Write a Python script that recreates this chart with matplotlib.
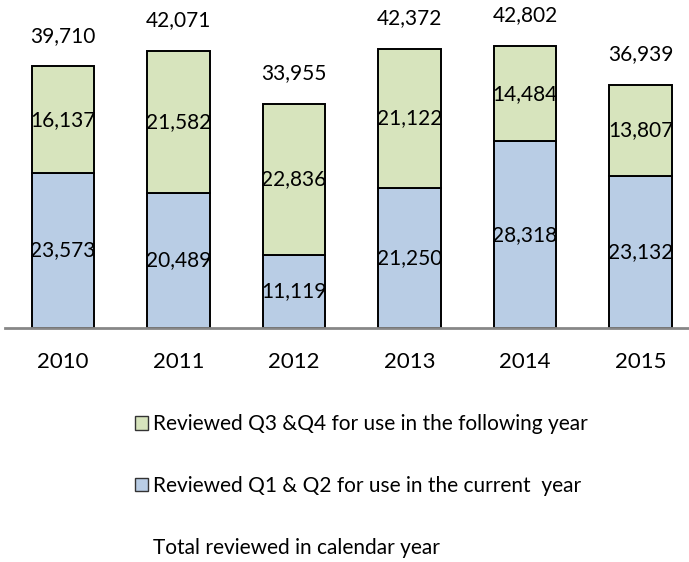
import matplotlib
matplotlib.use("Agg")
import matplotlib.pyplot as plt
from matplotlib.patches import Patch
from matplotlib.lines import Line2D

# data
years = ["2010", "2011", "2012", "2013", "2014", "2015"]
q1_q2 = [23573, 20489, 11119, 21250, 28318, 23132]
q3_q4 = [16137, 21582, 22836, 21122, 14484, 13807]
totals = [39710, 42071, 33955, 42372, 42802, 36939]

blue = "#B9CDE5"
green = "#D7E4BD"

plt.rcParams["font.family"] = ["Lato", "DejaVu Sans"]
plt.rcParams["font.size"] = 15

fig = plt.figure(figsize=(6.89, 5.62), dpi=100)
ax = fig.add_axes([5 / 689, 1 - 328 / 562, 684 / 689, 328 / 562])

x = list(range(len(years)))
b1 = ax.bar(x, q1_q2, width=0.54, color=blue, edgecolor="black", linewidth=1.4, zorder=2)
b2 = ax.bar(x, q3_q4, width=0.54, bottom=q1_q2, color=green, edgecolor="black",
            linewidth=1.4, zorder=2)

ax.bar_label(b1, labels=[f"{v:,}" for v in q1_q2], label_type="center", fontsize=15)
ax.bar_label(b2, labels=[f"{v:,}" for v in q3_q4], label_type="center", fontsize=15)
ax.bar_label(b2, labels=[f"{v:,}" for v in totals], label_type="edge", padding=15, fontsize=15)

ax.set_xlim(-0.503, 5.42)
ax.set_ylim(0, 49800)
ax.set_xticks(x)
ax.set_xticklabels(years, fontsize=16)
ax.tick_params(axis="x", length=0, pad=17)
ax.set_yticks([])
for side in ["top", "right", "left"]:
    ax.spines[side].set_visible(False)
ax.spines["bottom"].set_color("#878787")
ax.spines["bottom"].set_linewidth(2)
ax.spines["bottom"].set_zorder(3)

handles = [
    Patch(facecolor=green, edgecolor="#333333", linewidth=1),
    Patch(facecolor=blue, edgecolor="#333333", linewidth=1),
    Line2D([], [], color="none"),
]
labels = [
    "Reviewed Q3 &Q4 for use in the following year",
    "Reviewed Q1 & Q2 for use in the current  year",
    "Total reviewed in calendar year",
]
fig.legend(handles, labels, loc="upper left", bbox_to_anchor=(125 / 689, 1 - 404 / 562),
           frameon=False, fontsize=15, handlelength=0.6, handleheight=0.6,
           handletextpad=0.25, labelspacing=2.0, borderpad=0)

fig.savefig("out.png", dpi=100)
